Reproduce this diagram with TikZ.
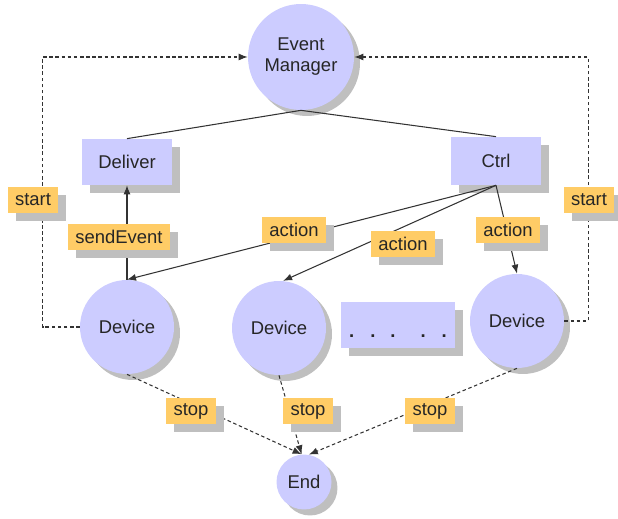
\documentclass[tikz,border=0pt]{standalone}
\usepackage{fontspec}
\setmainfont{Liberation Sans}
\usetikzlibrary{shadows,arrows.meta}

\definecolor{nodeblue}{RGB}{204,204,255}
\definecolor{tagorange}{RGB}{255,204,102}

\tikzset{
  state/.style={circle, fill=nodeblue, inner sep=0pt,
    drop shadow={shadow xshift=1.2mm, shadow yshift=-1.2mm, fill=black!25, opacity=1}},
  unit/.style={rectangle, fill=nodeblue, inner sep=0pt,
    drop shadow={shadow xshift=1.6mm, shadow yshift=-1.6mm, fill=black!25, opacity=1}},
  tag/.style={rectangle, fill=tagorange, minimum height=5.2mm, inner xsep=1.5mm, inner ysep=0pt,
    drop shadow={shadow xshift=1.6mm, shadow yshift=-1.6mm, fill=black!25, opacity=1}},
  link/.style={draw=black!80, line width=0.6pt},
  flow/.style={link, -{Latex[length=1.8mm,width=1.4mm]}},
  signal/.style={flow, dash pattern=on 2pt off 1.5pt}
}

\begin{document}
\begin{tikzpicture}[x=0.02cm, y=-0.02cm, font=\fontsize{10.5}{12}\selectfont, text=black!85]
    \useasboundingbox (0,0) rectangle (618,519);

    % main blocks
    \node[state, minimum size=21.2mm, align=center] (em) at (301,57) {Event\\Manager};
    \node[unit, minimum width=18.2mm, minimum height=9.2mm] (deliver) at (127,162) {Deliver};
    \node[unit, minimum width=18mm, minimum height=9.6mm] (ctrl) at (496,161) {Ctrl};

    % devices
    \node[state, minimum size=18.8mm] (devL) at (127,327) {Device};
    \node[state, minimum size=18.8mm] (devM) at (279,328) {Device};
    \node[unit, minimum width=23mm, minimum height=9.2mm, text height=5.2mm, text depth=0pt]
      (more) at (398,325) {\textbf{.}\hspace{3.2mm}\textbf{.}\hspace{3mm}\textbf{.}\hspace{5mm}\textbf{.}\hspace{3.2mm}\textbf{.}};
    \node[state, minimum size=18.8mm] (devR) at (517,321) {Device};

    \node[state, minimum size=11mm] (end) at (304,482) {End};

    % manager to deliver and ctrl
    \draw[link] (em.south) -- (deliver.north);
    \draw[link] (em.south) -- (ctrl.north);

    % events and actions
    \draw[flow] (devL.north) -- (deliver.south);
    \draw[flow] (ctrl.south) -- (devL.north);
    \draw[flow] (ctrl.south) -- (devM.85);
    \draw[flow] (ctrl.south) -- (devR.north);

    % start loops back to the manager
    \draw[signal] (devL.west) -- ++(-37,0) |- (em.west);
    \draw[signal] (devR.east) -- ++(24,0) |- (em.east);

    % stop
    \draw[signal] (devL.south) -- (end.95);
    \draw[signal] (devM.south) -- (end.95);
    \draw[signal] (devR.south) -- (end.80);

    % labels on the connectors
    \node[tag] (startL) at (33,200) {start};
    \node[tag] (startR) at (589,200) {start};
    \node[tag] (send) at (119,237) {sendEvent};
    \node[tag] (actL) at (294,230) {action};
    \node[tag] (actM) at (403,244) {action};
    \node[tag] (actR) at (508,230) {action};
    \node[tag] (stopL) at (191,411) {stop};
    \node[tag] (stopM) at (308,411) {stop};
    \node[tag] (stopR) at (430,411) {stop};
\end{tikzpicture}
\end{document}
